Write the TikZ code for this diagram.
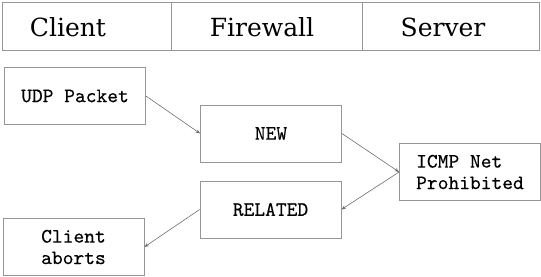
\documentclass[tikz,border=0pt]{standalone}
\usepackage{fontspec}
\newfontfamily\headfont{DejaVu Serif}
\newfontfamily\boxfont{lmmono10-regular.otf}[FakeBold=0.3]
\usetikzlibrary{arrows.meta}
\definecolor{boxgray}{RGB}{150,150,150}
\definecolor{linegray}{RGB}{110,110,110}
\begin{document}
\begin{tikzpicture}[x=1pt,y=-1pt,
  cell/.style={draw=boxgray, line width=0.8pt, minimum height=48pt, inner sep=0pt},
  head/.style={inner sep=0pt, font=\headfont\fontsize{25}{28}\selectfont},
  box/.style={draw=boxgray, line width=0.8pt, minimum width=141pt, minimum height=57pt,
    inner sep=0pt, font=\boxfont\fontsize{20.5}{21.5}\selectfont},
  conn/.style={draw=linegray, line width=0.6pt, -{Stealth[length=4.5pt,width=3.5pt]}}]
\useasboundingbox (0,0) rectangle (541,276);
\node[cell, minimum width=169pt] (client) at (86.5,26) {};
\node[cell, minimum width=191pt] (firewall) at (266.5,26) {};
\node[cell, minimum width=177pt] (server) at (450.5,26) {};
\node[head] (clientlbl) at (68,27) {Client};
\node[head] (firewalllbl) at (262,27) {Firewall};
\node[head] (serverlbl) at (443,27) {Server};
\node[box] (udp) at (75,96) {UDP Packet};
\node[box] (new) at (271,133.5) {NEW};
\node[box, align=left] (icmp) at (470,172) {ICMP Net\\Prohibited};
\node[box] (related) at (270.5,209.5) {RELATED};
\node[box, align=center] (abort) at (73.5,247) {Client\\aborts};
\draw[conn] (udp.east) -- (new.west);
\draw[conn] (new.east) -- (icmp.west);
\draw[conn] (icmp.west) -- (related.east);
\draw[conn] (related.west) -- (abort.east);
\end{tikzpicture}
\end{document}
